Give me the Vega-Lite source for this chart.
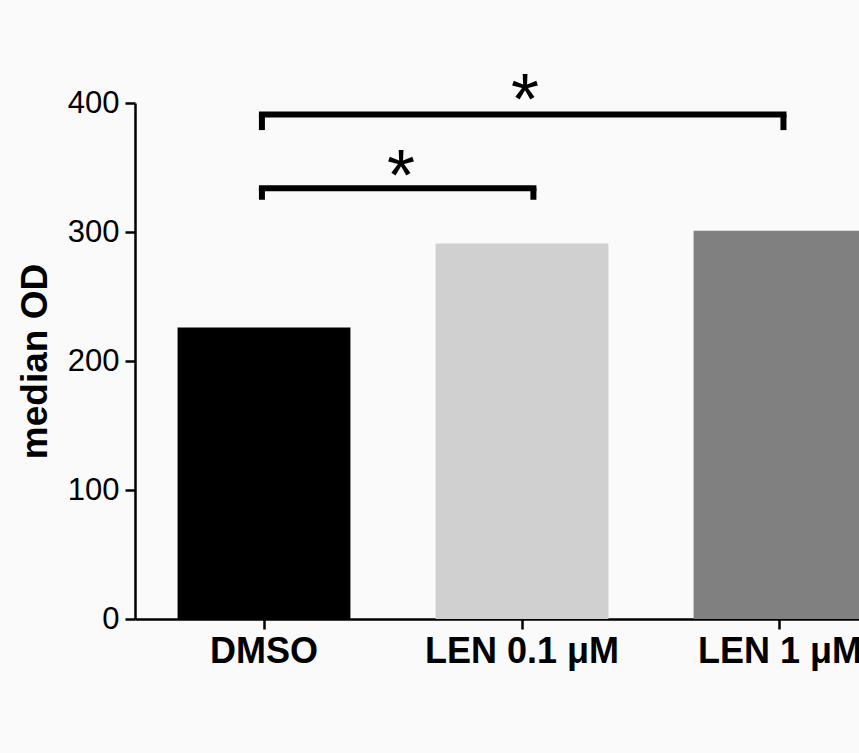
{
  "$schema": "https://vega.github.io/schema/vega-lite/v6.json",
  "width": 774,
  "height": 516,
  "autosize": {"type": "none"},
  "padding": {"left": 135, "top": 103, "right": 0, "bottom": 134},
  "background": "#fafafa",
  "config": {"view": {"stroke": null}, "font": "Liberation Sans"},
  "datasets": {
    "bars": [
      {"group": "DMSO", "od": 226},
      {"group": "LEN 0.1 μM", "od": 291},
      {"group": "LEN 1 μM", "od": 301}
    ],
    "brackets": [
      {"id": "a", "from": "DMSO", "to": "LEN 0.1 μM", "top": 334, "leg": 325, "label": "*", "starTop": 369},
      {"id": "b", "from": "DMSO", "to": "LEN 1 μM", "top": 391, "leg": 379, "label": "*", "starTop": 428}
    ]
  },
  "layer": [
    {
      "data": {"name": "bars"},
      "mark": {"type": "bar"},
      "encoding": {
        "x": {
          "field": "group", "type": "nominal",
          "scale": {"domain": ["DMSO", "LEN 0.1 μM", "LEN 1 μM"], "paddingInner": 0.33, "paddingOuter": 0.165},
          "axis": {
            "title": null, "labelAngle": 0, "labelFontSize": 36, "labelFontWeight": "bold", "labelLimit": 0,
            "labelColor": "#000000", "labelPadding": 5, "tickSize": 10, "tickWidth": 2.5,
            "tickColor": "#000000", "domainColor": "#000000", "domainWidth": 2.5, "grid": false
          }
        },
        "y": {
          "field": "od", "type": "quantitative",
          "scale": {"domain": [0, 400]},
          "axis": {
            "title": "median OD", "titleFontSize": 37, "titleFontWeight": "bold", "titleColor": "#000000",
            "titlePadding": 13, "values": [0, 100, 200, 300, 400], "labelFontSize": 31,
            "labelColor": "#000000", "labelPadding": 6, "tickSize": 10, "tickWidth": 2.5,
            "tickColor": "#000000", "domainColor": "#000000", "domainWidth": 2.5, "grid": false
          }
        },
        "color": {
          "field": "group", "type": "nominal",
          "scale": {"domain": ["DMSO", "LEN 0.1 μM", "LEN 1 μM"], "range": ["#000000", "#d0d0d0", "#808080"]},
          "legend": null
        }
      }
    },
    {
      "data": {"name": "brackets"},
      "mark": {"type": "rule", "strokeWidth": 6, "color": "#000000", "strokeCap": "butt"},
      "encoding": {
        "x": {"field": "from", "type": "nominal", "bandPosition": 0.488},
        "y": {"field": "top", "type": "quantitative"},
        "y2": {"field": "leg"}
      }
    },
    {
      "data": {"name": "brackets"},
      "transform": [{"filter": "datum.id == 'a'"}],
      "mark": {"type": "rule", "strokeWidth": 6, "color": "#000000", "strokeCap": "butt"},
      "encoding": {
        "x": {"field": "to", "type": "nominal", "bandPosition": 0.566},
        "y": {"field": "top", "type": "quantitative"},
        "y2": {"field": "leg"}
      }
    },
    {
      "data": {"name": "brackets"},
      "transform": [{"filter": "datum.id == 'b'"}],
      "mark": {"type": "rule", "strokeWidth": 6, "color": "#000000", "strokeCap": "butt"},
      "encoding": {
        "x": {"field": "to", "type": "nominal", "bandPosition": 0.52},
        "y": {"field": "top", "type": "quantitative"},
        "y2": {"field": "leg"}
      }
    },
    {
      "data": {"name": "brackets"},
      "transform": [{"filter": "datum.id == 'a'"}],
      "mark": {"type": "rule", "strokeWidth": 6, "color": "#000000", "strokeCap": "square"},
      "encoding": {
        "x": {"field": "from", "type": "nominal", "bandPosition": 0.488},
        "x2": {"field": "to", "bandPosition": 0.566},
        "y": {"field": "top", "type": "quantitative"}
      }
    },
    {
      "data": {"name": "brackets"},
      "transform": [{"filter": "datum.id == 'b'"}],
      "mark": {"type": "rule", "strokeWidth": 6, "color": "#000000", "strokeCap": "square"},
      "encoding": {
        "x": {"field": "from", "type": "nominal", "bandPosition": 0.488},
        "x2": {"field": "to", "bandPosition": 0.52},
        "y": {"field": "top", "type": "quantitative"}
      }
    },
    {
      "data": {"name": "brackets"},
      "transform": [{"filter": "datum.id == 'a'"}],
      "mark": {"type": "text", "fontSize": 72, "baseline": "top", "align": "center", "color": "#000000"},
      "encoding": {
        "x": {"field": "from", "type": "nominal", "bandPosition": 1.292},
        "y": {"field": "starTop", "type": "quantitative"},
        "text": {"field": "label"}
      }
    },
    {
      "data": {"name": "brackets"},
      "transform": [{"filter": "datum.id == 'b'"}],
      "mark": {"type": "text", "fontSize": 72, "baseline": "top", "align": "center", "color": "#000000"},
      "encoding": {
        "x": {"field": "from", "type": "nominal", "bandPosition": 2.01},
        "y": {"field": "starTop", "type": "quantitative"},
        "text": {"field": "label"}
      }
    }
  ]
}
